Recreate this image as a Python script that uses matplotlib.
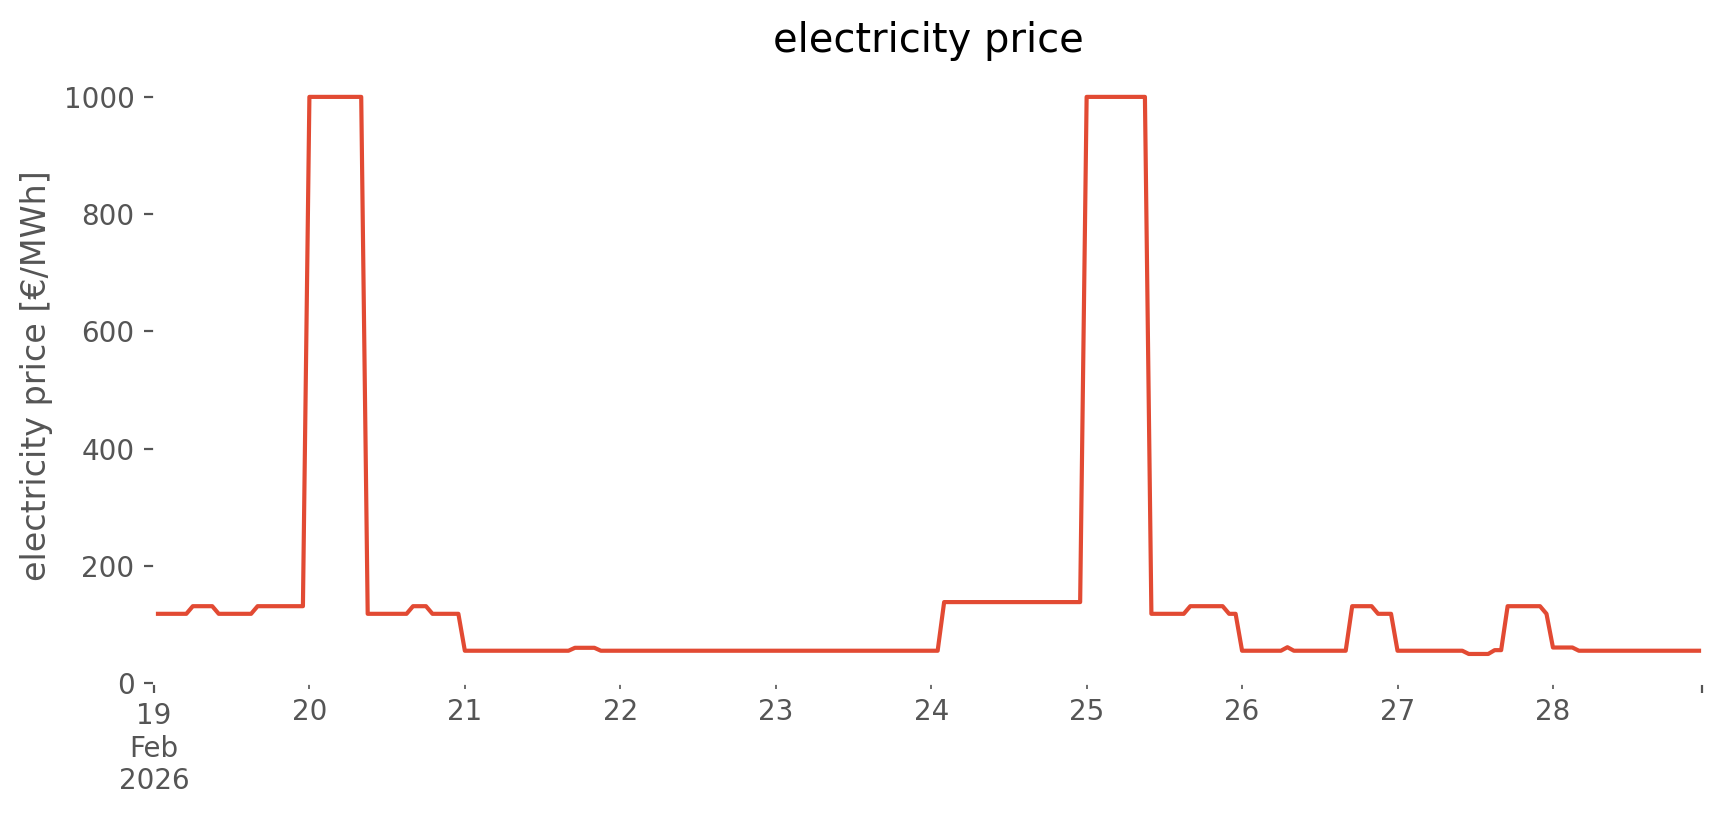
import numpy as np
import pandas as pd
import matplotlib
matplotlib.use("Agg")
import matplotlib.pyplot as plt

plt.style.use("ggplot")

# hourly electricity price [€/MWh], one row per day (00:00 .. 23:00)
feb19 = [118] * 6 + [131] * 4 + [118] * 6 + [131] * 8
feb20 = [1000] * 9 + [118] * 7 + [131] * 3 + [118] * 5
feb21 = [55] * 17 + [60] * 4 + [55] * 3
feb22 = [55] * 24
feb23 = [55] * 24
feb24 = [55] * 2 + [138] * 22
feb25 = [1000] * 10 + [118] * 6 + [131] * 6 + [118] * 2
feb26 = [55] * 7 + [61] + [55] * 9 + [131] * 4 + [118] * 3
feb27 = [55] * 11 + [49.5] * 4 + [56] * 2 + [131] * 6 + [118]
feb28 = [60.5] * 4 + [55] * 20

price = feb19 + feb20 + feb21 + feb22 + feb23 + feb24 + feb25 + feb26 + feb27 + feb28
index = pd.date_range("2026-02-19 00:00", periods=len(price), freq="h")
series = pd.Series(price, index=index, name="electricity price")

fig = plt.figure(figsize=(8.62, 4.075), dpi=200)
ax = fig.add_subplot(111)
fig.subplots_adjust(left=0.0893, right=0.9872, bottom=0.162, top=0.9153)

series.plot(ax=ax, color="#E24A33", lw=1.5)

ax.set_facecolor("white")
ax.grid(False)
ax.set_ylim(bottom=0)
ax.set_title("electricity price")
ax.set_ylabel("electricity price [€/MWh]")
ax.set_xlabel("")

fig.savefig("out.png", dpi=200)
